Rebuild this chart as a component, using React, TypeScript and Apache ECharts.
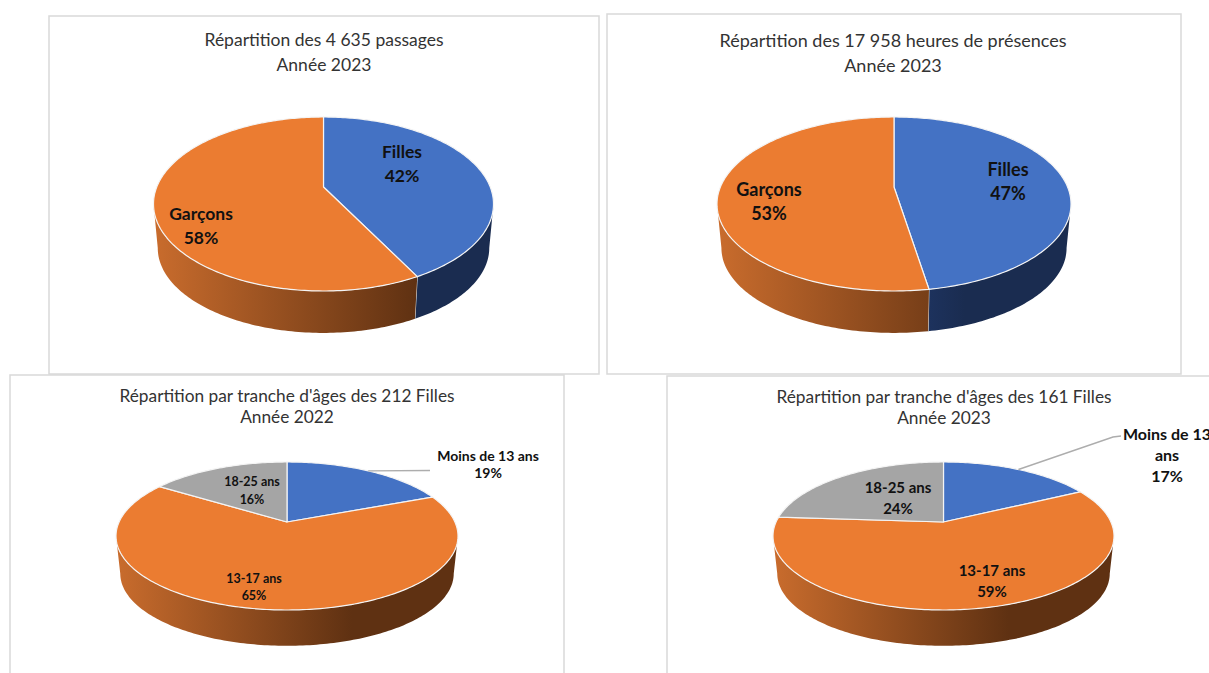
import React, { useEffect, useRef } from "react";
import * as echarts from "echarts";

// ---- values ----
const passagesNames = ["Filles", "Garçons"];
const passagesValues = [42.3, 57.7];
const heuresNames = ["Filles", "Garçons"];
const heuresValues = [47.4, 52.6];
const filles2022Names = ["Moins de 13 ans", "13-17 ans", "18-25 ans"];
const filles2022Values = [18.9, 65.3, 15.8];
const filles2023Names = ["Moins de 13 ans", "13-17 ans", "18-25 ans"];
const filles2023Values = [17.4, 58.7, 23.9];

const titles = [
  "Répartition des 4 635 passages\nAnnée 2023",
  "Répartition des 17 958 heures de présences\nAnnée 2023",
  "Répartition par tranche d'âges des 212 Filles\nAnnée 2022",
  "Répartition par tranche d'âges des 161 Filles\nAnnée 2023",
];

// ---- layout and styles ----
const FONT = "Lato";
const BLUE = "#4472C4";
const ORANGE = "#EB7C31";
const GREY = "#A5A5A5";

type Lbl = { x: number; y: number; text?: string; size?: number };
const charts = [
  {
    names: passagesNames, values: passagesValues, colors: [BLUE, ORANGE],
    cx: 323.5, apex: 187, rx: 170, up: 70, down: 104, depth: 44.5, wallEnd: 0.55,
    title: { x: 324, y: 27, size: 17.5, lh: 25 },
    font: 17.5, weight: 700, lh: 24,
    labels: [{ x: 402, y: 163 }, { x: 201, y: 225 }] as Lbl[],
    leader: [] as any[],
  },
  {
    names: heuresNames, values: heuresValues, colors: [BLUE, ORANGE],
    cx: 894, apex: 187, rx: 177, up: 70, down: 104, depth: 44.5, wallEnd: 0.55,
    title: { x: 893, y: 27, size: 18, lh: 25 },
    font: 18, weight: 700, lh: 24,
    labels: [{ x: 1008, y: 181 }, { x: 769, y: 201 }] as Lbl[],
    leader: [] as any[],
  },
  {
    names: filles2022Names, values: filles2022Values, colors: [BLUE, ORANGE, GREY],
    cx: 287, apex: 522, rx: 171, up: 60, down: 88, depth: 38, wallEnd: 0.38,
    title: { x: 287, y: 385, size: 17.3, lh: 21 },
    font: 12.5, weight: 700, lh: 17.5,
    labels: [{ x: 488, y: 464, size: 14 }, { x: 254, y: 587 }, { x: 252, y: 490.5 }] as Lbl[],
    leader: [{ i: 0, x: 430, y: 470.5 }],
  },
  {
    names: filles2023Names, values: filles2023Values, colors: [BLUE, ORANGE, GREY],
    cx: 943.5, apex: 522, rx: 170.5, up: 60, down: 88, depth: 38, wallEnd: 0.38,
    title: { x: 944, y: 386, size: 17.3, lh: 21 },
    font: 15, weight: 700, lh: 21,
    labels: [{ x: 1167, y: 454.5, text: "Moins de 13\nans", size: 16 }, { x: 992, y: 580 }, { x: 898, y: 497 }] as Lbl[],
    leader: [{ i: 0, x: 1113, y: 437, x2: 1121, y2: 436 }],
  },
];

const panels = [
  { x: 49, y: 16, w: 550, h: 358 },
  { x: 607, y: 14, w: 574, h: 360 },
  { x: 10, y: 375, w: 554, h: 320 },
  { x: 667, y: 376, w: 580, h: 320 },
];

const WALL_SCALE = 0.975;
const rad = (d: number) => (d * Math.PI) / 180;

function projector(c: (typeof charts)[number]) {
  const k = (c.down - c.up) / (c.down + c.up);
  const b = c.up * (1 + k);
  const a = c.rx * Math.sqrt(1 - k * k);
  const at = (deg: number, s = 1, dy = 0): [number, number] => {
    const u = Math.sin(rad(deg));
    const v = -Math.cos(rad(deg));
    const w = 1 - k * v;
    return [c.cx + (s * a * u) / w, c.apex + (s * b * v) / w + dy];
  };
  const edge = (Math.acos(-k) * 180) / Math.PI;
  return { at, edge };
}

function spans(values: number[]) {
  const total = values.reduce((s, v) => s + v, 0);
  let acc = 0;
  return values.map((v) => {
    const start = (acc / total) * 360;
    acc += v;
    return [start, (acc / total) * 360];
  });
}

function arc(from: number, to: number) {
  const out: number[] = [];
  const n = Math.max(2, Math.ceil(Math.abs(to - from)));
  for (let i = 0; i <= n; i++) out.push(from + ((to - from) * i) / n);
  return out;
}

function wallFill(color: string, c: (typeof charts)[number]) {
  const left = c.cx - c.rx;
  const right = c.cx + c.rx * c.wallEnd;
  if (color === ORANGE) {
    return new echarts.graphic.LinearGradient(left, 0, right, 0, [
      { offset: 0, color: "#C96C2D" },
      { offset: 1, color: "#5F3112" },
    ], true);
  }
  if (color === BLUE) {
    return new echarts.graphic.LinearGradient(c.cx, 0, c.cx + c.rx * 0.4, 0, [
      { offset: 0, color: "#20386A" },
      { offset: 1, color: "#1A2C50" },
    ], true);
  }
  return "#636363";
}

function buildSeries() {
  const series: any[] = [];
  charts.forEach((c) => {
    const { at, edge } = projector(c);
    const sp = spans(c.values);
    const data = c.values.map((v, i) => ({ value: v, name: c.names[i] }));

    series.push({
      type: "custom",
      coordinateSystem: "none",
      silent: true,
      z: 3,
      data,
      renderItem: (p: any) => {
        const [s0, s1] = sp[p.dataIndex];
        const from = Math.max(s0, edge);
        const to = Math.min(s1, 360 - edge);
        if (to <= from) return { type: "group", children: [] };
        const top = arc(from, to).map((d) => at(d));
        const bottom = arc(to, from).map((d) => at(d, WALL_SCALE, c.depth));
        const children: any[] = [
          {
            type: "polygon",
            shape: { points: [...top, ...bottom] },
            style: { fill: wallFill(c.colors[p.dataIndex], c) },
          },
        ];
        if (s1 < 360 - edge && s1 > edge) {
          const a = at(s1);
          const b = at(s1, WALL_SCALE, c.depth);
          children.push({
            type: "line",
            shape: { x1: a[0], y1: a[1], x2: b[0], y2: b[1] },
            style: { stroke: "#E8E8E8", lineWidth: 1 },
          });
        }
        return { type: "group", children };
      },
    });

    series.push({
      type: "custom",
      coordinateSystem: "none",
      silent: true,
      z: 4,
      data,
      renderItem: (p: any) => {
        const [s0, s1] = sp[p.dataIndex];
        const pts = [[c.cx, c.apex], ...arc(s0, s1).map((d) => at(d))];
        return {
          type: "polygon",
          shape: { points: pts },
          style: { fill: c.colors[p.dataIndex], stroke: "#F4F4F4", lineWidth: 1.2, lineJoin: "round" },
        };
      },
    });

    series.push({
      type: "custom",
      coordinateSystem: "none",
      silent: true,
      z: 5,
      data,
      renderItem: (p: any, api: any) => {
        const i = p.dataIndex;
        const l = c.labels[i];
        const children: any[] = [];
        const name = l.text ?? c.names[i];
        const pct = `${Math.round(api.value(0))}%`;
        const size = l.size ?? c.font;
        children.push({
          type: "text",
          style: {
            text: `${name}\n${pct}`,
            x: l.x,
            y: l.y,
            align: "center",
            verticalAlign: "middle",
            fontFamily: FONT,
            fontSize: size,
            fontWeight: c.weight,
            lineHeight: c.lh,
            fill: "#111111",
          },
        });
        c.leader
          .filter((d) => d.i === i)
          .forEach((d) => {
            const mid = at((sp[i][0] + sp[i][1]) / 2);
            const pts: number[][] = [mid, [d.x, d.y]];
            if (d.x2) pts.push([d.x2, d.y2]);
            children.push({
              type: "polyline",
              shape: { points: pts },
              style: { stroke: "#ADADAD", lineWidth: 1.4, fill: "none" },
            });
          });
        return { type: "group", children };
      },
    });
  });
  return series;
}

export default function App() {
  const ref = useRef<HTMLDivElement>(null);
  useEffect(() => {
    const chart = echarts.init(ref.current!, null, { renderer: "svg" });
    chart.setOption({
      animation: false,
      backgroundColor: "#FFFFFF",
      title: charts.map((c, i) => ({
        text: titles[i],
        left: c.title.x,
        top: c.title.y,
        textAlign: "center",
        padding: 0,
        textStyle: {
          fontFamily: FONT,
          fontSize: c.title.size,
          fontWeight: 400,
          color: "#333333",
          lineHeight: c.title.lh,
        },
      })),
      graphic: panels.map((r) => ({
        type: "rect",
        z: 0,
        silent: true,
        shape: { x: r.x, y: r.y, width: r.w, height: r.h },
        style: { fill: "#FFFFFF", stroke: "#D9D9D9", lineWidth: 1.5 },
      })),
      series: buildSeries(),
    });
    return () => chart.dispose();
  }, []);
  return (
    <div
      ref={ref}
      style={{ position: "absolute", left: 0, top: 0, width: 1209, height: 673, overflow: "hidden" }}
    />
  );
}
